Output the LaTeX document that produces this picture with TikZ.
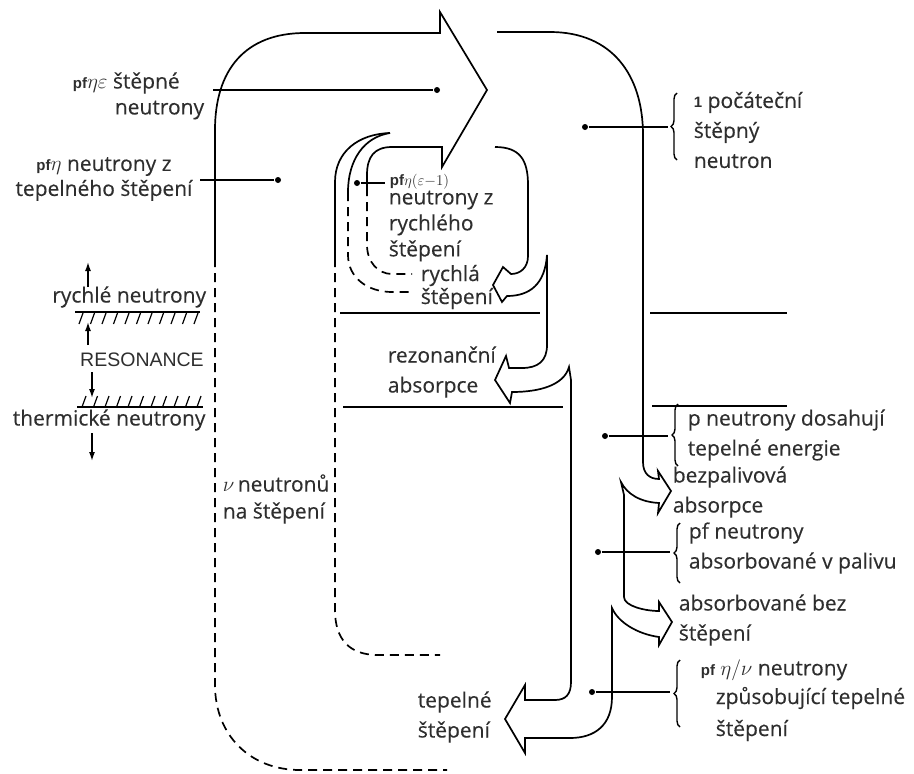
\RequirePackage{fix-cm}
\documentclass[tikz,border=0pt]{standalone}
\usepackage{fontspec}
\setmainfont[FakeBold=0.3]{Open Sans}
\newfontfamily\capsfont{Liberation Sans}
\usetikzlibrary{arrows.meta}
\usetikzlibrary{decorations.pathreplacing}
\definecolor{txtgray}{gray}{0.18}
\tikzset{
  dot/.style={circle, fill=black, inner sep=0pt, minimum size=6pt},
  lbl/.style={text=txtgray, inner sep=0pt, font=\fontsize{21}{30}\selectfont},
  dashline/.style={dash pattern=on 9pt off 6pt},
  curly/.style={decorate, decoration={brace, amplitude=6pt}, line width=1.4pt},
  levelarrow/.style={-{Latex[length=9pt,width=6pt]}, line width=1.5pt}
}
\newcommand{\smallsans}[1]{{\capsfont\bfseries\fontsize{15}{15}\selectfont #1}}

\begin{document}
\begin{tikzpicture}[x=1pt, y=-1pt, line width=1.7pt]
\useasboundingbox (0,0) rectangle (914,774);

    % big arrow and its left band
    \draw (215,258) -- (215,130) .. controls (215,70) and (245,33) .. (305,33) -- (440,33) -- (440,12) -- (487,90) -- (442,167) -- (442,147) -- (392,147) .. controls (374,147) and (367,157) .. (367,175) -- (367,187);
    \draw[dashline] (215,258) -- (215,685) .. controls (215,735) and (250,770) .. (300,770) -- (447,770);
    \draw (335,258) -- (335,182) .. controls (335,152) and (358,134) .. (390,133);
    \draw (390,133) .. controls (364,137) and (348,160) .. (348,192);
    \draw[dashline] (335,258) -- (335,610) .. controls (335,640) and (350,655) .. (378,655) -- (440,655);
    \draw[dashline] (348,192) -- (348,255) .. controls (348,278) and (368,292) .. (392,292) -- (412,292);
    \draw[dashline] (367,187) -- (367,245) .. controls (367,262) and (378,274) .. (392,274) -- (412,274);

    % right band, outer edge
    \draw (497,32) -- (550,32) .. controls (612,32) and (643,75) .. (643,135) -- (643,462) .. controls (643,474) and (650,479) .. (659,479) -- (658,471) -- (671,491) -- (658,513) -- (659,503) .. controls (640,502) and (627,494) .. (621,482) -- (624,495) -- (624,597) .. controls (624,606) and (645,611) .. (659,611) -- (659,602) -- (672,622) -- (659,645) -- (659,637) .. controls (637,634) and (618,622) .. (612,608) -- (612,620);
    % right band, inner edge
    \draw (495,147) .. controls (520,147) and (528,160) .. (528,185) -- (528,256) .. controls (528,268) and (520,274) .. (511,274) -- (503,267) -- (493,285) -- (502,302) -- (507,296) .. controls (530,296) and (545,284) .. (547,255) -- (547,345) .. controls (547,361) and (538,368) .. (522,368) -- (509,368) -- (506,356) -- (495,380) -- (510,403) -- (512,392) .. controls (540,392) and (564,385) .. (569,367) -- (571,380) -- (571,682) .. controls (571,694) and (566,700) .. (555,700) -- (525,700) -- (525,685) -- (505,719) -- (525,753) -- (525,738) -- (570,738) .. controls (595,738) and (612,725) .. (612,697) -- (612,615);

    % energy levels
    \draw (340,313) -- (540,313);
    \draw (343,407) -- (563,407);
    \draw (650,313) -- (787,313);
    \draw (652,406) -- (787,406);
    \draw (75,312) -- (200,312);
    \foreach \x in {80,91.5,...,196} \draw[line width=1.2pt] (\x+3,313) -- (\x-1,324);
    \draw (77,407) -- (203,407);
    \foreach \x in {86,97.5,...,202} \draw[line width=1.2pt] (\x,396) -- (\x-4,407);

    % left labels
    \node[lbl, anchor=east] (fast) at (207,297) {rychlé neutrony};
    \node[text=txtgray, inner sep=0pt, font=\capsfont\fontsize{19.5}{19.5}\selectfont] (reso) at (142,360) {RESONANCE};
    \node[lbl, anchor=west] (therm) at (12,420) {thermické neutrony};
    \coordinate (fastup) at (88,262);
    \coordinate (resoup) at (88,322);
    \coordinate (resodown) at (92,398);
    \coordinate (thermdown) at (92,461);
    \draw[levelarrow] (88,287) -- (fastup);
    \draw[levelarrow] (88,345) -- (resoup);
    \draw[levelarrow] (92,372) -- (resodown);
    \draw[levelarrow] (92,433) -- (thermdown);

    \node[lbl, anchor=west] (pfe1) at (72,83) {\smallsans{pf}$\eta\varepsilon$ štěpné};
    \node[lbl, anchor=east] (pfe2) at (205,110) {neutrony};
    \node[lbl, align=center] (pfth) at (104,179) {\smallsans{pf}$\eta$ neutrony z\\[-5pt]tepelného štěpení};
    \node[lbl, anchor=west, align=left] (init) at (693,130) {\smallsans{1} počáteční\\štěpný\\neutron};
    \node[text=txtgray, inner sep=0pt, anchor=west, font=\fontsize{15}{15}\selectfont] (pfr) at (389,182) {\smallsans{pf}$\eta(\varepsilon{-}1)$};
    \node[lbl, anchor=west, align=left] (fastn) at (388,226) {neutrony z\\[-4pt]rychlého\\[-4pt]štěpení};
    \node[lbl, anchor=west, align=left] (fastfis) at (420,287) {rychlá\\[-7pt]štěpení};
    \node[lbl, anchor=west, align=left] (resabs) at (387,372) {rezonanční\\absorpce};
    \node[lbl, anchor=west, align=left] (nu) at (222,499) {$\nu$\,neutronů\\[-3pt]na štěpení};
    \node[lbl, anchor=west, align=left] (thfis) at (417,717) {tepelné\\štěpení};
    \node[lbl, anchor=west, align=left] (pthr) at (687,435) {p neutrony dosahují\\tepelné energie};
    \node[lbl, anchor=west, align=left] (nonfuel) at (672,492) {bezpalivová\\absorpce};
    \node[lbl, anchor=west, align=left] (fuel) at (688,548) {pf neutrony\\absorbované v palivu};
    \node[lbl, anchor=west, align=left] (capt) at (678,620) {absorbované bez\\štěpení};
    \node[lbl, anchor=west] (pfnu) at (700,670) {\smallsans{pf} $\eta/\nu$ neutrony};
    \node[lbl, anchor=west, align=left] (cause) at (715,714) {způsobující tepelné\\[2pt]štěpení};

    % dots with their lines
    \node[dot] (d1) at (437,90) {};
    \node[dot] (d2) at (278,180) {};
    \node[dot] (d3) at (357,183) {};
    \node[dot] (d4) at (585,127) {};
    \node[dot] (d5) at (605,436) {};
    \node[dot] (d6) at (598,552) {};
    \node[dot] (d7) at (592,692) {};
    \coordinate (e1) at (213,90);
    \coordinate (e2) at (200,180);
    \coordinate (e3) at (385,183);
    \coordinate (e4) at (668,127);
    \coordinate (e5) at (668,436);
    \coordinate (e6) at (670,552);
    \coordinate (e7) at (670,692);
    \draw (e1) -- (d1);
    \draw (e2) -- (d2);
    \draw (d3) -- (e3);
    \draw (d4) -- (e4);
    \draw (d5) -- (e5);
    \draw (d6) -- (e6);
    \draw (d7) -- (e7);
    \draw[curly] (677,160) -- (677,93);
    \draw[curly] (678,466) -- (678,404);
    \draw[curly] (680,583) -- (680,523);
    \draw[curly] (680,727) -- (680,660);

\end{tikzpicture}
\end{document}
